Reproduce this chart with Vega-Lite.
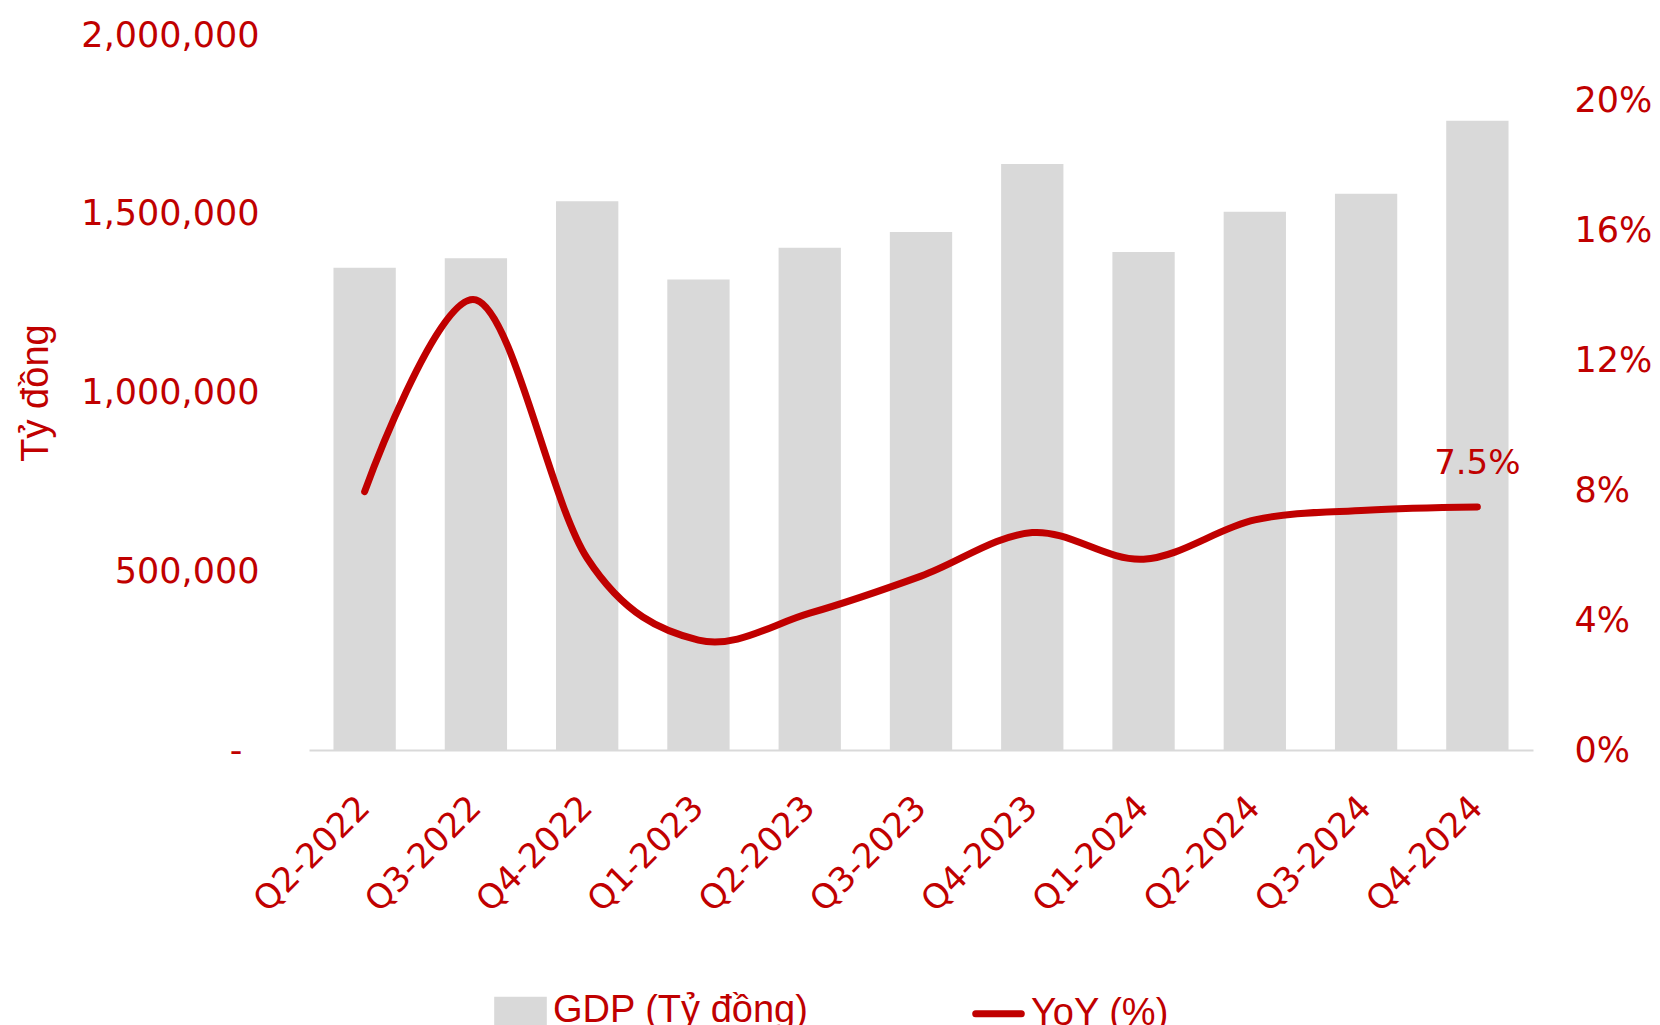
{
  "$schema": "https://vega.github.io/schema/vega-lite/v6.json",
  "width": 1224,
  "height": 715,
  "autosize": {"type": "none"},
  "padding": {"left": 309, "top": 35, "right": 127, "bottom": 275},
  "background": "white",
  "config": {
    "view": {"stroke": null},
    "axis": {"labelFont": "DejaVu Sans", "labelColor": "#C00000", "titleColor": "#C00000"}
  },
  "data": {
    "values": [
      {"quarter": "Q2-2022", "gdp": 1348700, "yoy": 7.95},
      {"quarter": "Q3-2022", "gdp": 1375400, "yoy": 13.85},
      {"quarter": "Q4-2022", "gdp": 1535250, "yoy": 5.9},
      {"quarter": "Q1-2023", "gdp": 1316100, "yoy": 3.38},
      {"quarter": "Q2-2023", "gdp": 1405000, "yoy": 4.21},
      {"quarter": "Q3-2023", "gdp": 1449300, "yoy": 5.35},
      {"quarter": "Q4-2023", "gdp": 1638900, "yoy": 6.69},
      {"quarter": "Q1-2024", "gdp": 1393000, "yoy": 5.87},
      {"quarter": "Q2-2024", "gdp": 1505700, "yoy": 7.08},
      {"quarter": "Q3-2024", "gdp": 1556000, "yoy": 7.38},
      {"quarter": "Q4-2024", "gdp": 1760300, "yoy": 7.48, "note": "7.5%"}
    ]
  },
  "encoding": {
    "x": {
      "field": "quarter",
      "type": "nominal",
      "sort": null,
      "scale": {"paddingInner": 0.44, "paddingOuter": 0.22},
      "axis": {
        "title": null,
        "labelAngle": -45,
        "labelAlign": "right",
        "labelBaseline": "middle",
        "labelFontSize": 34,
        "labelPadding": 52,
        "ticks": false,
        "domainColor": "#D9D9D9",
        "domainWidth": 2
      }
    }
  },
  "layer": [
    {
      "mark": {"type": "bar", "color": "#D9D9D9"},
      "encoding": {
        "y": {
          "field": "gdp",
          "type": "quantitative",
          "scale": {"domain": [0, 2000000], "nice": false},
          "axis": {
            "title": "Tỷ đồng",
            "titleFont": "Liberation Sans",
            "titleFontSize": 38,
            "titleFontWeight": "normal",
            "titlePadding": 54,
            "values": [0, 500000, 1000000, 1500000, 2000000],
            "labelExpr": "datum.value === 0 ? '-' : format(datum.value, ',')",
            "labelFontSize": 35,
            "labelPadding": {"condition": {"test": "datum.value === 0", "value": 67}, "value": 50},
            "ticks": false,
            "domain": false,
            "grid": false
          }
        },
        "color": {
          "datum": "GDP (Tỷ đồng)",
          "type": "nominal",
          "scale": {"domain": ["GDP (Tỷ đồng)", "YoY (%)"], "range": ["#D9D9D9", "#C00000"]},
          "legend": {
            "title": null,
            "orient": "none",
            "legendX": 185,
            "legendY": 949,
            "direction": "horizontal",
            "columns": 2,
            "columnPadding": 152,
            "padding": 0,
            "labelFont": "Liberation Sans",
            "labelFontSize": 38,
            "labelColor": "#C00000",
            "labelOffset": 6,
            "labelLimit": 0,
            "symbolSize": 2080,
            "encode": {
              "symbols": {
                "update": {
                  "shape": {"signal": "datum.value === 'YoY (%)' ? 'M-1,0H1' : 'M-1,-0.47H1V0.47H-1Z'"},
                  "fill": {"signal": "datum.value === 'YoY (%)' ? 'transparent' : '#D9D9D9'"},
                  "stroke": {"signal": "datum.value === 'YoY (%)' ? '#C00000' : 'transparent'"},
                  "strokeWidth": {"value": 7},
                  "strokeCap": {"value": "round"},
                  "opacity": {"value": 1},
                  "fillOpacity": {"value": 1},
                  "strokeOpacity": {"value": 1}
                }
              }
            }
          }
        }
      }
    },
    {
      "layer": [
        {
          "mark": {"type": "line", "interpolate": "cardinal", "strokeWidth": 7, "strokeCap": "round", "strokeJoin": "round"},
          "encoding": {
            "y": {
              "field": "yoy",
              "type": "quantitative",
              "scale": {"domain": [0, 22], "nice": false},
              "axis": {
                "orient": "right",
                "title": null,
                "values": [0, 4, 8, 12, 16, 20],
                "labelExpr": "datum.value + '%'",
                "labelFontSize": 35,
                "labelPadding": 41,
                "ticks": false,
                "domain": false,
                "grid": false
              }
            },
            "color": {"datum": "YoY (%)", "type": "nominal"}
          }
        },
        {
          "transform": [{"filter": "isValid(datum.note)"}],
          "mark": {"type": "text", "font": "DejaVu Sans", "fontSize": 34, "color": "#C00000", "dy": -43, "baseline": "middle", "align": "center"},
          "encoding": {
            "y": {"field": "yoy", "type": "quantitative"},
            "text": {"field": "note", "type": "nominal"}
          }
        }
      ]
    }
  ],
  "resolve": {"scale": {"y": "independent"}}
}
